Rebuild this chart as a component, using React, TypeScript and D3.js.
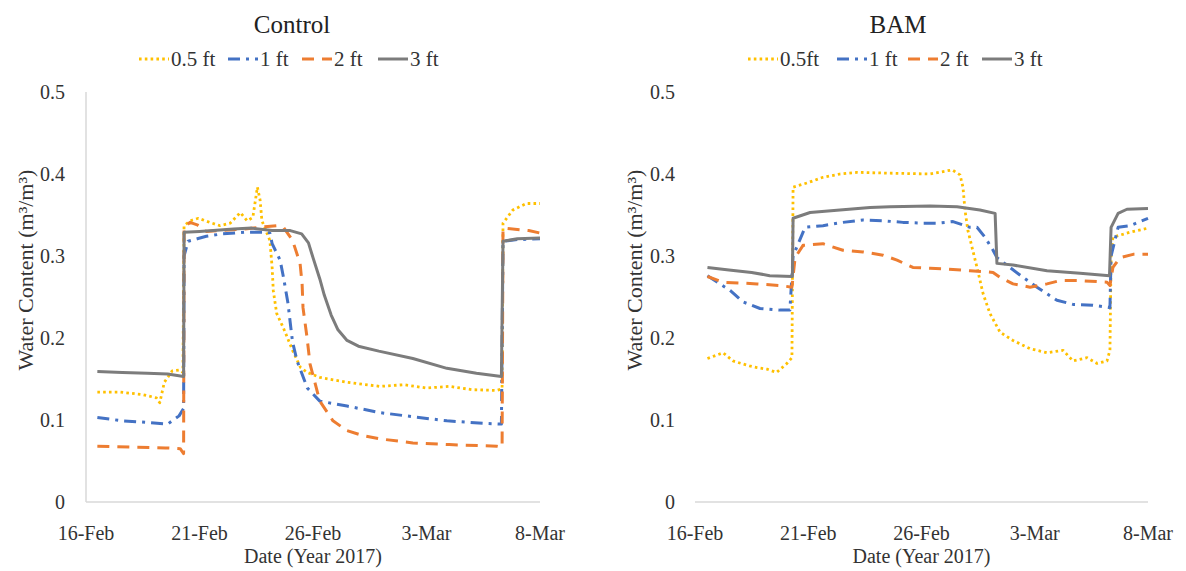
import React from "react";
import * as d3 from "d3";

// Days after 16-Feb-2017 on the x axis, volumetric water content (m3/m3) on y.
const tickDays = [0, 5, 10, 15, 20];
const tickLabels = ["16-Feb", "21-Feb", "26-Feb", "3-Mar", "8-Mar"];
const yTicks = [0, 0.1, 0.2, 0.3, 0.4, 0.5];

const controlLegend = ["0.5 ft", "1 ft", "2 ft", "3 ft"];
const bamLegend = ["0.5ft", "1 ft", "2 ft", "3 ft"];

type Pt = [number, number];

const control05: Pt[] = [
  [0.5, 0.134], [1.5, 0.134], [2.5, 0.131], [3.1, 0.127], [3.25, 0.121], [3.45, 0.146],
  [3.8, 0.16], [4.1, 0.161], [4.27, 0.158], [4.32, 0.337], [4.6, 0.343], [4.95, 0.346],
  [5.45, 0.341], [5.9, 0.337], [6.35, 0.34], [6.8, 0.353], [7.1, 0.343], [7.35, 0.347],
  [7.55, 0.384], [7.67, 0.368], [7.75, 0.343], [8.1, 0.319], [8.2, 0.286], [8.25, 0.258],
  [8.4, 0.23], [8.7, 0.212], [9.1, 0.185], [9.45, 0.164], [9.75, 0.158], [10.3, 0.152],
  [11.5, 0.146], [12.95, 0.141], [14.0, 0.143], [15.0, 0.139], [16.0, 0.141], [17.0, 0.137],
  [18.1, 0.136], [18.33, 0.138], [18.37, 0.34], [18.8, 0.356], [19.4, 0.364], [20.0, 0.364],
];
const control1: Pt[] = [
  [0.5, 0.103], [1.6, 0.099], [2.7, 0.097], [3.6, 0.095], [4.1, 0.105], [4.3, 0.114],
  [4.32, 0.3], [4.5, 0.318], [4.9, 0.321], [5.3, 0.324], [6.0, 0.327], [7.0, 0.329],
  [8.0, 0.329], [8.1, 0.328], [8.2, 0.315], [8.55, 0.295], [8.7, 0.274], [8.9, 0.242],
  [9.0, 0.218], [9.1, 0.195], [9.3, 0.172], [9.6, 0.15], [9.75, 0.139], [10.3, 0.123],
  [11.5, 0.117], [12.95, 0.109], [14.4, 0.104], [15.9, 0.099], [17.5, 0.096], [18.3, 0.095],
  [18.37, 0.318], [19.0, 0.32], [20.0, 0.321],
];
const control2: Pt[] = [
  [0.5, 0.068], [2.0, 0.067], [3.5, 0.066], [4.15, 0.065], [4.3, 0.059], [4.32, 0.335],
  [4.58, 0.341], [4.9, 0.338], [5.3, 0.33], [5.9, 0.331], [7.0, 0.333], [8.0, 0.336],
  [8.4, 0.337], [8.7, 0.335], [9.1, 0.319], [9.43, 0.291], [9.52, 0.266], [9.56, 0.237],
  [9.74, 0.2], [9.87, 0.168], [10.3, 0.123], [10.88, 0.099], [11.5, 0.087], [12.2, 0.081],
  [12.95, 0.077], [14.4, 0.072], [16.0, 0.07], [18.1, 0.068], [18.33, 0.067], [18.37, 0.334],
  [19.5, 0.331], [20.0, 0.328],
];
const control3: Pt[] = [
  [0.5, 0.159], [1.6, 0.158], [2.7, 0.157], [3.6, 0.156], [4.3, 0.153], [4.32, 0.329],
  [5.0, 0.33], [5.6, 0.331], [6.5, 0.333], [7.3, 0.334], [8.2, 0.331], [9.0, 0.331],
  [9.5, 0.327], [9.8, 0.316], [10.0, 0.298], [10.3, 0.272], [10.5, 0.252], [10.8, 0.228],
  [11.1, 0.21], [11.5, 0.197], [12.0, 0.19], [12.9, 0.184], [14.4, 0.175], [15.9, 0.163],
  [17.2, 0.157], [18.3, 0.153], [18.37, 0.318], [19.0, 0.321], [20.0, 0.322],
];

const bam05: Pt[] = [
  [0.55, 0.175], [1.24, 0.182], [1.68, 0.172], [2.4, 0.166], [2.74, 0.164], [3.18, 0.162],
  [3.6, 0.158], [4.06, 0.169], [4.28, 0.176], [4.33, 0.384], [4.94, 0.389], [5.65, 0.396],
  [6.4, 0.4], [7.15, 0.402], [8.61, 0.401], [10.38, 0.4], [11.35, 0.405], [11.7, 0.399],
  [11.83, 0.384], [11.92, 0.356], [12.05, 0.331], [12.45, 0.286], [12.72, 0.254], [13.02, 0.23],
  [13.47, 0.207], [14.04, 0.197], [14.79, 0.187], [15.54, 0.182], [16.25, 0.185], [16.69, 0.172],
  [17.31, 0.176], [17.75, 0.169], [18.19, 0.172], [18.32, 0.185], [18.37, 0.3], [18.45, 0.323],
  [19.21, 0.329], [20.0, 0.334],
];
const bam1: Pt[] = [
  [0.55, 0.276], [1.1, 0.266], [1.55, 0.258], [2.12, 0.244], [2.87, 0.236], [3.75, 0.234],
  [4.19, 0.234], [4.33, 0.3], [4.86, 0.335], [5.65, 0.337], [6.53, 0.341], [7.42, 0.344],
  [8.3, 0.343], [9.18, 0.341], [10.07, 0.34], [10.68, 0.34], [11.39, 0.342], [12.14, 0.335],
  [12.45, 0.335], [12.8, 0.323], [13.16, 0.307], [13.33, 0.298], [14.48, 0.274], [15.1, 0.262],
  [15.98, 0.246], [16.69, 0.241], [17.57, 0.24], [18.32, 0.237], [18.37, 0.3], [18.68, 0.335],
  [19.21, 0.337], [19.65, 0.342], [20.0, 0.346],
];
const bam2: Pt[] = [
  [0.55, 0.275], [1.24, 0.268], [2.74, 0.266], [3.75, 0.264], [4.28, 0.262], [4.42, 0.298],
  [4.77, 0.313], [5.65, 0.315], [6.53, 0.307], [7.42, 0.305], [8.3, 0.301], [8.92, 0.295],
  [9.62, 0.286], [10.38, 0.285], [11.13, 0.284], [12.14, 0.282], [13.16, 0.28], [13.47, 0.274],
  [14.04, 0.266], [14.79, 0.262], [15.54, 0.266], [16.11, 0.27], [17.0, 0.27], [18.19, 0.268],
  [18.32, 0.264], [18.45, 0.286], [18.76, 0.298], [19.34, 0.302], [20.0, 0.302],
];
const bam3: Pt[] = [
  [0.55, 0.286], [1.5, 0.283], [2.5, 0.28], [3.3, 0.276], [4.3, 0.275], [4.33, 0.346],
  [5.08, 0.353], [6.4, 0.356], [7.73, 0.359], [8.61, 0.36], [10.38, 0.361], [11.57, 0.36],
  [12.58, 0.356], [13.25, 0.352], [13.33, 0.291], [14.04, 0.289], [15.54, 0.282], [17.0, 0.279],
  [18.3, 0.276], [18.37, 0.335], [18.68, 0.352], [19.07, 0.357], [20.0, 0.358],
];

// Line styles for the four sensor depths
const styles = [
  { color: "#FFC000", dash: "2.6 3.2", width: 2.8 },
  { color: "#4472C4", dash: "12 6 3 6", width: 3 },
  { color: "#ED7D31", dash: "12 8", width: 3 },
  { color: "#7C7C7C", dash: "none", width: 3 },
];

const FONT = "'Liberation Serif', 'Times New Roman', serif";
const TOP = 92;
const BOTTOM = 502;

type PanelProps = {
  x0: number;
  x1: number;
  title: string;
  titleX: number;
  legend: string[];
  legendX: number[];
  yLabelX: number;
  yTitleX: number;
  axisLine: boolean;
  series: Pt[][];
};

function Panel(p: PanelProps) {
  const x = d3.scaleLinear().domain([0, 20]).range([p.x0, p.x1]);
  const y = d3.scaleLinear().domain([0, 0.5]).range([BOTTOM, TOP]);
  const line = d3
    .line<Pt>()
    .x((d) => x(d[0]))
    .y((d) => y(d[1]));
  const fmt = (v: number) => (v === 0 ? "0" : d3.format(".1f")(v));
  const mid = (p.x0 + p.x1) / 2;
  return (
    <g>
      <text x={p.titleX} y={33} textAnchor="middle" fontSize={25} fill="#222">
        {p.title}
      </text>
      {p.legend.map((name, i) => (
        <g key={name}>
          <line
            x1={p.legendX[i]}
            x2={p.legendX[i] + 30}
            y1={59}
            y2={59}
            stroke={styles[i].color}
            strokeWidth={styles[i].width}
            strokeDasharray={styles[i].dash}
          />
          <text x={p.legendX[i] + 32} y={66} fontSize={21} fill="#333">
            {name}
          </text>
        </g>
      ))}
      {p.axisLine && (
        <line x1={p.x0} x2={p.x0} y1={TOP} y2={BOTTOM} stroke="#D9D9D9" strokeWidth={1.5} />
      )}
      <line x1={p.x0} x2={p.x1} y1={BOTTOM} y2={BOTTOM} stroke="#D9D9D9" strokeWidth={1.5} />
      {yTicks.map((t) => (
        <text key={t} x={p.yLabelX} y={y(t) + 7} textAnchor="end" fontSize={20} fill="#333">
          {fmt(t)}
        </text>
      ))}
      {tickDays.map((t, i) => (
        <text key={t} x={x(t)} y={540} textAnchor="middle" fontSize={20} fill="#333">
          {tickLabels[i]}
        </text>
      ))}
      <text x={mid} y={563} textAnchor="middle" fontSize={20} fill="#333">
        Date (Year 2017)
      </text>
      <text
        transform={`translate(${p.yTitleX},${270}) rotate(-90)`}
        textAnchor="middle"
        fontSize={22}
        fill="#333"
        fontFamily={FONT}
      >
        Water Content (m³/m³)
      </text>
      {p.series.map((s, i) => (
        <path
          key={i}
          d={line(s) ?? ""}
          fill="none"
          stroke={styles[i].color}
          strokeWidth={styles[i].width}
          strokeDasharray={styles[i].dash}
          strokeLinejoin="round"
        />
      ))}
    </g>
  );
}

export default function App() {
  return (
    <div style={{ position: "fixed", left: 0, top: 0 }}>
      <svg width={1186} height={571} style={{ display: "block", background: "#fff", fontFamily: FONT }}>
        <Panel
          x0={86}
          x1={540}
          title="Control"
          titleX={292}
          legend={controlLegend}
          legendX={[139, 228, 302, 378]}
          yLabelX={65}
          yTitleX={33}
          axisLine={true}
          series={[control05, control1, control2, control3]}
        />
        <Panel
          x0={695}
          x1={1148}
          title="BAM"
          titleX={898}
          legend={bamLegend}
          legendX={[748, 837, 908, 982]}
          yLabelX={675}
          yTitleX={642}
          axisLine={false}
          series={[bam05, bam1, bam2, bam3]}
        />
      </svg>
    </div>
  );
}
